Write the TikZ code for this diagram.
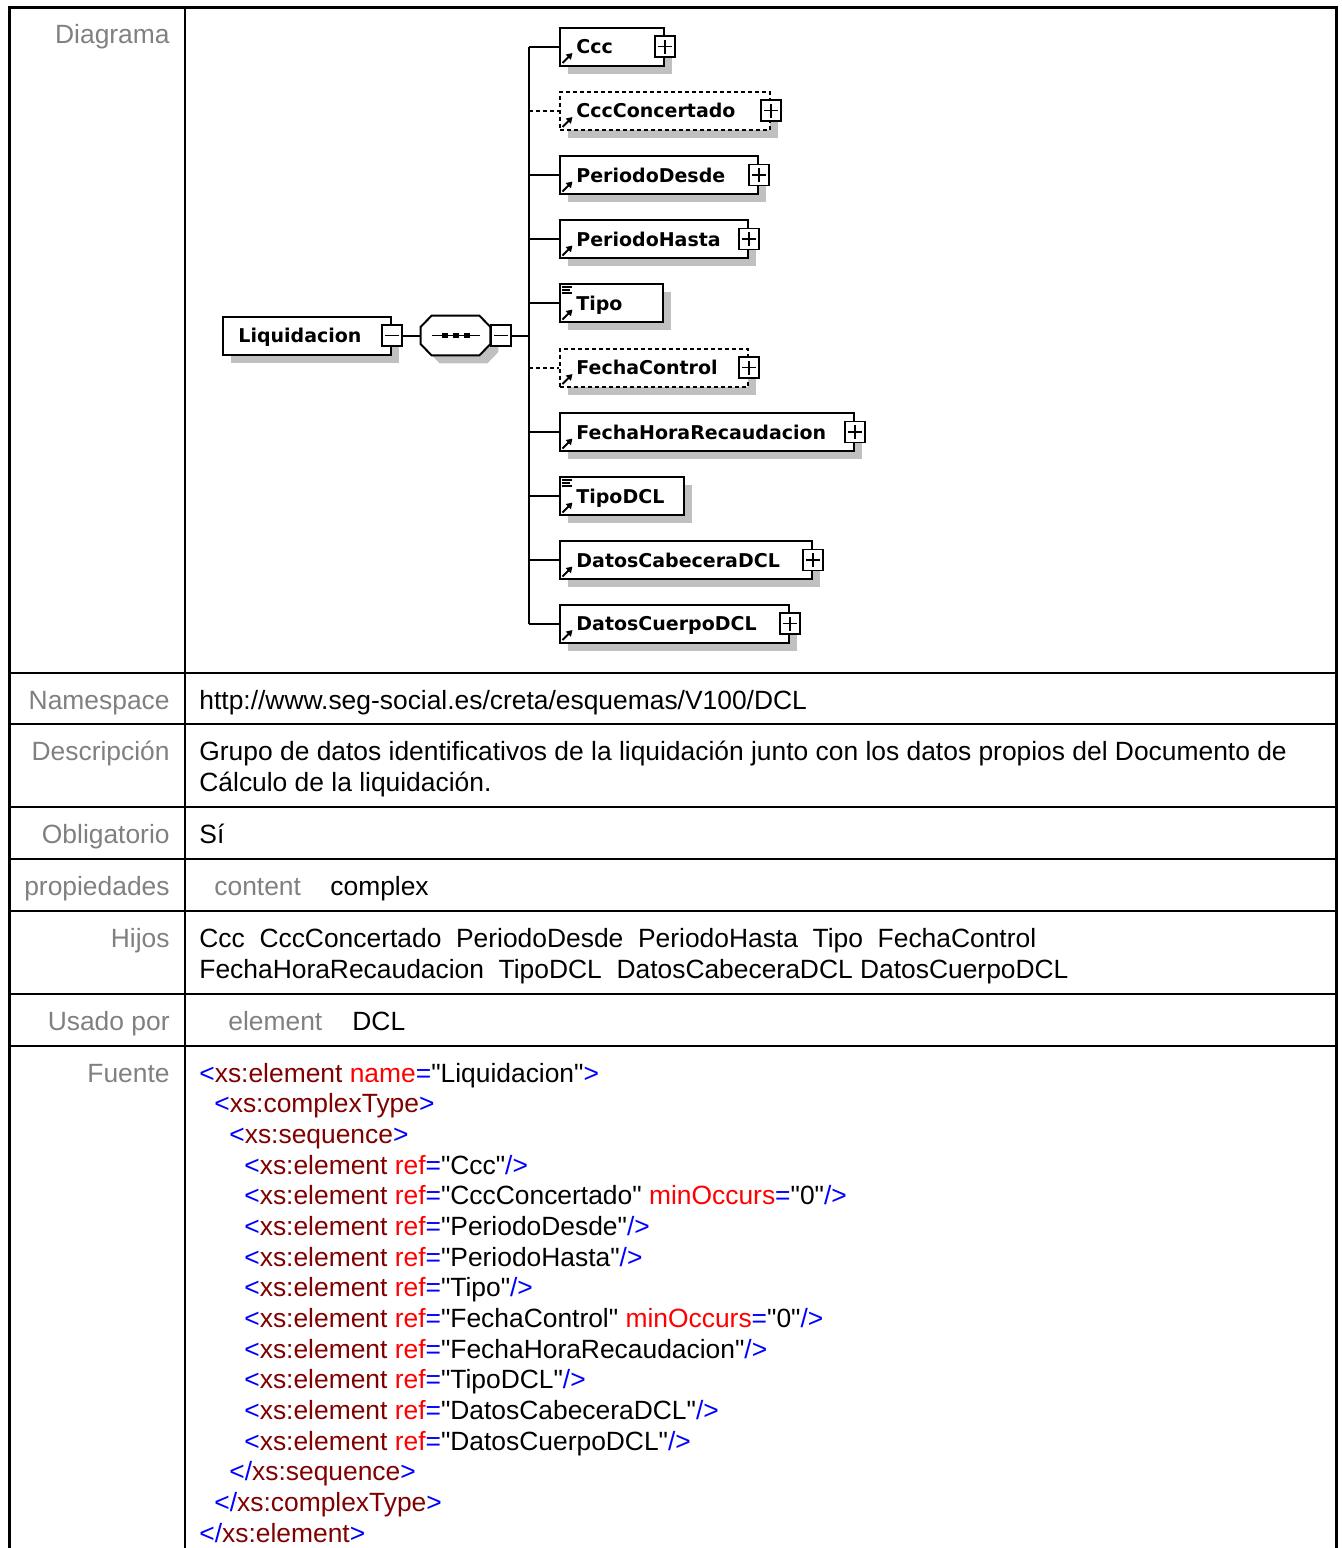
\documentclass[tikz,border=0pt]{standalone}
\usepackage{fontspec}
\setmainfont{Liberation Sans}[Ligatures=TeXOff]
\newfontfamily\boxfont{DejaVu Sans}
\usepackage{xcolor}
\usetikzlibrary{calc,positioning,shadows,arrows.meta}
\definecolor{lblgrey}{RGB}{128,128,128}
\definecolor{shadowgrey}{RGB}{192,192,192}
\definecolor{xblue}{RGB}{0,0,255}
\definecolor{xmaroon}{RGB}{128,0,0}
\definecolor{xred}{RGB}{255,0,0}
\newcommand{\xb}[1]{\textcolor{xblue}{#1}}
\newcommand{\xm}[1]{\textcolor{xmaroon}{#1}}
\newcommand{\xr}[1]{\textcolor{xred}{#1}}
\newcommand{\refline}[1]{\xb{<}\xm{xs:element} \xr{ref}\xb{=}"#1"\xb{/>}}
\newcommand{\refopt}[1]{\xb{<}\xm{xs:element} \xr{ref}\xb{=}"#1" \xr{minOccurs}\xb{=}"0"\xb{/>}}
\tikzset{
  lbl/.style={font=\fontsize{13.2}{15.3}\selectfont, text=lblgrey, anchor=base east, inner sep=0pt},
  val/.style={font=\fontsize{13.2}{15.3}\selectfont, anchor=base west, inner sep=0pt},
  shadowed/.style={drop shadow={shadow xshift=4pt, shadow yshift=-4pt, fill=shadowgrey, draw=none, opacity=1}},
  elem/.style={draw, line width=1pt, fill=white, anchor=west, minimum height=19pt, inner sep=0pt, shadowed},
  opt/.style={elem, dash pattern=on 2pt off 1.5pt},
  ename/.style={font=\boxfont\bfseries\fontsize{9.5}{11}\selectfont, anchor=base west, inner sep=0pt},
  expbox/.style={draw, line width=0.75pt, fill=white, minimum width=10pt, minimum height=10.5pt, inner sep=0pt},
  plusbox/.style={expbox, path picture={\draw[line width=0.75pt] (path picture bounding box.center) ++(-3.5pt,0) -- ++(7pt,0) (path picture bounding box.center) ++(0,-3.5pt) -- ++(0,7pt);}},
  minusbox/.style={expbox, path picture={\draw[line width=0.75pt] (path picture bounding box.center) ++(-3.5pt,0) -- ++(7pt,0);}},
  conn/.style={line width=1pt},
  optconn/.style={line width=1pt, dash pattern=on 2pt off 1.5pt},
  refarrow/.style={line width=1pt, -{Triangle[length=3pt,width=3.5pt]}},
  simpleicon/.style={line width=0.6pt}
}
\begin{document}
\begin{tikzpicture}[x=0.5pt,y=-0.5pt]
    \useasboundingbox (0,0) rectangle (1341,1548);
    \draw[line width=1.5pt] (9,1560) -- (9,7) -- (1336,7) -- (1336,1560);
    \draw[line width=1.25pt] (185,7) -- (185,1560);
    \draw[line width=1.25pt] (9,673) -- (1336,673);
    \draw[line width=1.25pt] (9,724) -- (1336,724);
    \draw[line width=1.25pt] (9,807) -- (1336,807);
    \draw[line width=1.25pt] (9,859) -- (1336,859);
    \draw[line width=1.25pt] (9,911) -- (1336,911);
    \draw[line width=1.25pt] (9,994) -- (1336,994);
    \draw[line width=1.25pt] (9,1046) -- (1336,1046);

    \node[lbl] (diag) at (170,43) {Diagrama};
    \node[lbl] (ns) at (170,709) {Namespace};
    \node[val] (nsval) at (199,709) {http://www.seg-social.es/creta/esquemas/V100/DCL};
    \node[lbl] (desc) at (170,760) {Descripción};
    \node[val] (desc1) at (199,760) {Grupo de datos identificativos de la liquidación junto con los datos propios del Documento de};
    \node[val] (desc2) at (199,791) {Cálculo de la liquidación.};
    \node[lbl] (oblig) at (170,843) {Obligatorio};
    \node[val] (obligval) at (199,843) {Sí};
    \node[lbl] (prop) at (170,895) {propiedades};
    \node[val, text=lblgrey] (propkey) at (214,895) {content};
    \node[val] (propval) at (330,895) {complex};
    \node[lbl] (hijos) at (170,947) {Hijos};
    \node[val] (hijos1) at (199,947) {Ccc\ \ CccConcertado\ \ PeriodoDesde\ \ PeriodoHasta\ \ Tipo\ \ FechaControl};
    \node[val] (hijos2) at (199,978) {FechaHoraRecaudacion\ \ TipoDCL\ \ DatosCabeceraDCL DatosCuerpoDCL};
    \node[lbl] (usado) at (170,1030) {Usado por};
    \node[val, text=lblgrey] (usadokey) at (228,1030) {element};
    \node[val] (usadoval) at (352,1030) {DCL};
    \node[lbl] (fuente) at (170,1082) {Fuente};
    \node[val] (src1) at (199,1082) {\xb{<}\xm{xs:element} \xr{name}\xb{=}"Liquidacion"\xb{>}};
    \node[val] (src2) at (214,1112.7) {\xb{<}\xm{xs:complexType}\xb{>}};
    \node[val] (src3) at (229,1143.3) {\xb{<}\xm{xs:sequence}\xb{>}};
    \node[val] (src4) at (244,1174) {\refline{Ccc}};
    \node[val] (src5) at (244,1204.7) {\refopt{CccConcertado}};
    \node[val] (src6) at (244,1235.3) {\refline{PeriodoDesde}};
    \node[val] (src7) at (244,1266) {\refline{PeriodoHasta}};
    \node[val] (src8) at (244,1296.7) {\refline{Tipo}};
    \node[val] (src9) at (244,1327.3) {\refopt{FechaControl}};
    \node[val] (src10) at (244,1358) {\refline{FechaHoraRecaudacion}};
    \node[val] (src11) at (244,1388.7) {\refline{TipoDCL}};
    \node[val] (src12) at (244,1419.3) {\refline{DatosCabeceraDCL}};
    \node[val] (src13) at (244,1450) {\refline{DatosCuerpoDCL}};
    \node[val] (src14) at (229,1480.7) {\xb{</}\xm{xs:sequence}\xb{>}};
    \node[val] (src15) at (214,1511.3) {\xb{</}\xm{xs:complexType}\xb{>}};
    \node[val] (src16) at (199,1542) {\xb{</}\xm{xs:element}\xb{>}};

    \node[elem, minimum width=84pt] (liq) at (222,335.5) {};
    \node[ename] (liqtxt) at (238,342.5) {Liquidacion};
    \node[minusbox] (liqminus) at (liq.east) {};
    \node[minimum width=34.5pt, minimum height=19.5pt, inner sep=0pt] (seq) at (455.5,335.5) {};
    \draw[line width=1pt, fill=white, shadowed] ($(seq.west)+(0,4.25pt)$) -- ($(seq.north west)+(5.5pt,0)$) -- ($(seq.north east)+(-5.5pt,0)$) -- ($(seq.east)+(0,4.25pt)$) -- ($(seq.east)+(0,-4.25pt)$) -- ($(seq.south east)+(-5.5pt,0)$) -- ($(seq.south west)+(5.5pt,0)$) -- ($(seq.west)+(0,-4.25pt)$) -- cycle;
    \draw[line width=0.75pt] ($(seq.center)+(-12pt,0)$) -- ($(seq.center)+(12pt,0)$);
    \fill ($(seq.center)+(-7pt,-1.1pt)$) rectangle ++(3pt,2.2pt);
    \fill ($(seq.center)+(-1.5pt,-1.1pt)$) rectangle ++(3pt,2.2pt);
    \fill ($(seq.center)+(4pt,-1.1pt)$) rectangle ++(3pt,2.2pt);
    \node[minusbox, anchor=west] (seqminus) at (seq.east) {};
    \coordinate (fork) at (529,335.5);
    \draw[conn] (liqminus.east) -- (seq.west);
    \draw[conn] (seqminus.east) -- (fork);

    \node[elem, minimum width=52pt] (ccc) at (559,46.5) {};
    \node[ename] (ccctxt) at (576,53.5) {Ccc};
    \node[plusbox] (cccplus) at (ccc.east) {};
    \draw[refarrow] ($(ccc.south west)+(1.75pt,1.75pt)$) -- ++(5pt,5pt);

    \node[opt, minimum width=105pt] (cccconc) at (559,110.5) {};
    \node[ename] (cccconctxt) at (576,117.5) {CccConcertado};
    \node[plusbox] (cccconcplus) at (cccconc.east) {};
    \draw[refarrow] ($(cccconc.south west)+(1.75pt,1.75pt)$) -- ++(5pt,5pt);

    \node[elem, minimum width=99pt] (desde) at (559,175) {};
    \node[ename] (desdetxt) at (576,182) {PeriodoDesde};
    \node[plusbox] (desdeplus) at (desde.east) {};
    \draw[refarrow] ($(desde.south west)+(1.75pt,1.75pt)$) -- ++(5pt,5pt);

    \node[elem, minimum width=94pt] (hasta) at (559,239) {};
    \node[ename] (hastatxt) at (576,246) {PeriodoHasta};
    \node[plusbox] (hastaplus) at (hasta.east) {};
    \draw[refarrow] ($(hasta.south west)+(1.75pt,1.75pt)$) -- ++(5pt,5pt);

    \node[elem, minimum width=51.5pt] (tipo) at (559,303) {};
    \node[ename] (tipotxt) at (576,310) {Tipo};
    \draw[refarrow] ($(tipo.south west)+(1.75pt,1.75pt)$) -- ++(5pt,5pt);
    \draw[simpleicon] ($(tipo.north west)+(1.5pt,-2pt)$) -- ++(5pt,0) ($(tipo.north west)+(1.5pt,-3.5pt)$) -- ++(4pt,0) ($(tipo.north west)+(1.5pt,-5pt)$) -- ++(5pt,0);

    \node[opt, minimum width=94pt] (fcontrol) at (559,367.5) {};
    \node[ename] (fcontroltxt) at (576,374.5) {FechaControl};
    \node[plusbox] (fcontrolplus) at (fcontrol.east) {};
    \draw[refarrow] ($(fcontrol.south west)+(1.75pt,1.75pt)$) -- ++(5pt,5pt);

    \node[elem, minimum width=147pt] (fhora) at (559,432) {};
    \node[ename] (fhoratxt) at (576,439) {FechaHoraRecaudacion};
    \node[plusbox] (fhoraplus) at (fhora.east) {};
    \draw[refarrow] ($(fhora.south west)+(1.75pt,1.75pt)$) -- ++(5pt,5pt);

    \node[elem, minimum width=62pt] (tipodcl) at (559,496) {};
    \node[ename] (tipodcltxt) at (576,503) {TipoDCL};
    \draw[refarrow] ($(tipodcl.south west)+(1.75pt,1.75pt)$) -- ++(5pt,5pt);
    \draw[simpleicon] ($(tipodcl.north west)+(1.5pt,-2pt)$) -- ++(5pt,0) ($(tipodcl.north west)+(1.5pt,-3.5pt)$) -- ++(4pt,0) ($(tipodcl.north west)+(1.5pt,-5pt)$) -- ++(5pt,0);

    \node[elem, minimum width=126pt] (cabecera) at (559,560) {};
    \node[ename] (cabeceratxt) at (576,567) {DatosCabeceraDCL};
    \node[plusbox] (cabeceraplus) at (cabecera.east) {};
    \draw[refarrow] ($(cabecera.south west)+(1.75pt,1.75pt)$) -- ++(5pt,5pt);

    \node[elem, minimum width=114.5pt] (cuerpo) at (559,623.5) {};
    \node[ename] (cuerpotxt) at (576,630.5) {DatosCuerpoDCL};
    \node[plusbox] (cuerpoplus) at (cuerpo.east) {};
    \draw[refarrow] ($(cuerpo.south west)+(1.75pt,1.75pt)$) -- ++(5pt,5pt);

    \draw[conn] (fork |- ccc.west) -- (fork |- cuerpo.west);
    \draw[conn] (fork |- ccc.west) -- (ccc.west);
    \draw[optconn] (fork |- cccconc.west) -- (cccconc.west);
    \draw[conn] (fork |- desde.west) -- (desde.west);
    \draw[conn] (fork |- hasta.west) -- (hasta.west);
    \draw[conn] (fork |- tipo.west) -- (tipo.west);
    \draw[optconn] (fork |- fcontrol.west) -- (fcontrol.west);
    \draw[conn] (fork |- fhora.west) -- (fhora.west);
    \draw[conn] (fork |- tipodcl.west) -- (tipodcl.west);
    \draw[conn] (fork |- cabecera.west) -- (cabecera.west);
    \draw[conn] (fork |- cuerpo.west) -- (cuerpo.west);
\end{tikzpicture}
\end{document}
